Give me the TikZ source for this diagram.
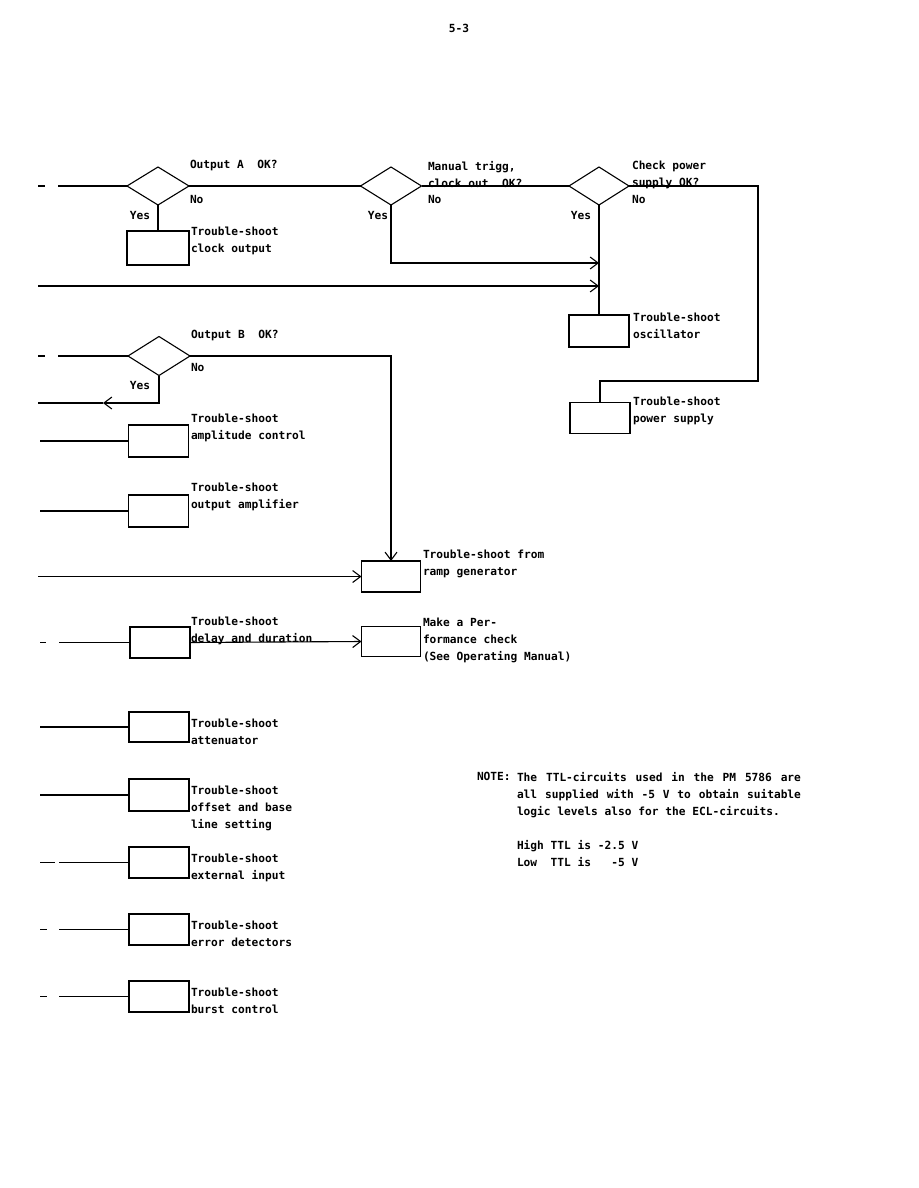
\documentclass[tikz,border=0pt]{standalone}
\usepackage{fontspec}
\newfontfamily\monof{DejaVu Sans Mono}
\usetikzlibrary{shapes.geometric,arrows.meta}
\begin{document}
\begin{tikzpicture}[x=1pt,y=-1pt,
  every node/.style={inner sep=0pt, outer sep=0pt},
  ln/.style={line width=1.1pt},
  arr/.style={-{Straight Barb[length=8pt,width=12pt,line width=1.1pt]}},
  dia/.style={diamond, draw, line width=1.1pt, inner sep=0pt},
  boxn/.style={rectangle, draw, line width=1.1pt, minimum width=60pt, minimum height=32pt},
  lbl/.style={anchor=north west, align=left, font=\monof\bfseries\fontsize{11.2pt}{17pt}\selectfont},
  lbly/.style={lbl, anchor=north east},
]
\useasboundingbox[fill=white] (0,0) rectangle (918,1188);

\node[lbl, anchor=north] (pg) at (459,24) {5-3};

% diamonds
\node[dia, minimum width=62pt, minimum height=38pt] (dA) at (158,186) {};
\node[dia, minimum width=61pt, minimum height=38pt] (dM) at (391,186) {};
\node[dia, minimum width=60pt, minimum height=38pt] (dP) at (599,186) {};
\node[dia, minimum width=62pt, minimum height=39pt] (dB) at (159,356) {};

% boxes
\node[boxn, minimum width=62pt, minimum height=34pt] (bClock) at (158,248) {};
\node[boxn] (bOsc) at (599,331) {};
\node[boxn, minimum height=31pt] (bPow) at (600,418) {};
\node[boxn] (bAmp) at (158.5,441) {};
\node[boxn] (bOA) at (158.5,511) {};
\node[boxn, minimum width=59pt, minimum height=31pt] (bRamp) at (391,576.5) {};
\node[boxn, minimum width=59pt, minimum height=30pt] (bPerf) at (391,641.5) {};
\node[boxn, minimum height=31pt] (bDelay) at (160,642.5) {};
\node[boxn, minimum height=30pt] (bAtt) at (159,727) {};
\node[boxn] (bOff) at (159,795) {};
\node[boxn, minimum height=31pt] (bExt) at (159,862.5) {};
\node[boxn, minimum height=31pt] (bErr) at (159,929.5) {};
\node[boxn, minimum height=31pt] (bBurst) at (159,996.5) {};

% labels
\node[lbl] (tA) at (190,160) {Output~A~~OK?};
\node[lbl] (tANo) at (190,195) {No};
\node[lbly] (tAYes) at (150,211) {Yes};
\node[lbl] (tClock) at (191,227) {Trouble-shoot\\clock output};
\node[lbl] (tM) at (428,161) {Manual trigg,\\clock out~~OK?};
\node[lbl] (tMNo) at (428,195) {No};
\node[lbly] (tMYes) at (388,211) {Yes};
\node[lbl] (tP) at (632,161) {Check power\\supply OK?};
\node[lbl] (tPNo) at (632,195) {No};
\node[lbly] (tPYes) at (591,211) {Yes};
\node[lbl] (tOsc) at (633,313) {Trouble-shoot\\oscillator};
\node[lbl] (tPow) at (633,397) {Trouble-shoot\\power supply};
\node[lbl] (tB) at (191,330) {Output~B~~OK?};
\node[lbl] (tBNo) at (191,363) {No};
\node[lbly] (tBYes) at (150,381) {Yes};
\node[lbl] (tAmp) at (191,414) {Trouble-shoot\\amplitude control};
\node[lbl] (tOA) at (191,483) {Trouble-shoot\\output amplifier};
\node[lbl] (tRamp) at (423,550) {Trouble-shoot from\\ramp generator};
\node[lbl] (tPerf) at (423,618) {Make a Per-\\formance check\\(See Operating Manual)};
\node[lbl] (tDelay) at (191,617) {Trouble-shoot\\delay and duration};
\node[lbl] (tAtt) at (191,719) {Trouble-shoot\\attenuator};
\node[lbl] (tOff) at (191,786) {Trouble-shoot\\offset and base\\line setting};
\node[lbl] (tExt) at (191,854) {Trouble-shoot\\external input};
\node[lbl] (tErr) at (191,921) {Trouble-shoot\\error detectors};
\node[lbl] (tBurst) at (191,988) {Trouble-shoot\\burst control};

% note
\node[lbl] (nHead) at (477,772) {NOTE:};
\node[lbl] (nText) at (517,772) {\spaceskip=6.74pt plus 4pt\relax
\makebox[284pt][s]{The TTL-circuits used in the PM 5786 are}\\
\makebox[284pt][s]{all supplied with -5 V to obtain suitable}\\
logic levels also for the ECL-circuits.\\[17pt]
High TTL is -2.5 V\\
Low~~TTL is~~~-5 V};

% coordinates for free ends
\coordinate (iA1) at (38,186); \coordinate (iA2) at (45,186); \coordinate (iA3) at (58,186);
\coordinate (j1) at (599,263);
\coordinate (i286) at (38,286); \coordinate (j2) at (599,286);
\coordinate (c1) at (758,186); \coordinate (c2) at (758,381);
\coordinate (iB1) at (38,356); \coordinate (iB2) at (45,356); \coordinate (iB3) at (58,356);
\coordinate (yB) at (103,403); \coordinate (yE) at (38,403);
\coordinate (iAmp) at (40,441);
\coordinate (iOA) at (40,511);
\coordinate (iRamp) at (38,576.5);
\coordinate (iD1) at (40,642.5); \coordinate (iD2) at (46,642.5); \coordinate (iD3) at (59,642.5);
\coordinate (iAtt) at (40,727);
\coordinate (iOff) at (40,795);
\coordinate (iE1) at (40,862.5); \coordinate (iE2) at (55,862.5); \coordinate (iE3) at (59,862.5);
\coordinate (iR1) at (40,929.5); \coordinate (iR2) at (47,929.5); \coordinate (iR3) at (59,929.5);
\coordinate (iU1) at (40,996.5); \coordinate (iU2) at (47,996.5); \coordinate (iU3) at (59,996.5);

% connectors
\draw[ln] (iA1) -- (iA2);
\draw[ln] (iA3) -- (dA.west);
\draw[ln] (dA.east) -- (dM.west);
\draw[ln] (dM.east) -- (dP.west);
\draw[ln] (dA.south) -- (bClock.north);
\draw[ln,arr] (dM.south) |- (j1);
\draw[ln,arr] (i286) -- (j2);
\draw[ln] (dP.south) -- (bOsc.north);
\draw[ln] (dP.east) -- (c1) -- (c2) -| (bPow.north);
\draw[ln] (iB1) -- (iB2);
\draw[ln] (iB3) -- (dB.west);
\draw[ln,arr] (dB.east) -| (bRamp.north);
\draw[ln,arr] (dB.south) |- (yB);
\draw[ln] (yB) -- (yE);
\draw[ln] (iAmp) -- (bAmp.west);
\draw[ln] (iOA) -- (bOA.west);
\draw[ln,arr] (iRamp) -- (bRamp.west);
\draw[ln] (iD1) -- (iD2);
\draw[ln] (iD3) -- (bDelay.west);
\draw[ln,arr] (bDelay.east) -- (bPerf.west);
\draw[ln] (iAtt) -- (bAtt.west);
\draw[ln] (iOff) -- (bOff.west);
\draw[ln] (iE1) -- (iE2);
\draw[ln] (iE3) -- (bExt.west);
\draw[ln] (iR1) -- (iR2);
\draw[ln] (iR3) -- (bErr.west);
\draw[ln] (iU1) -- (iU2);
\draw[ln] (iU3) -- (bBurst.west);
\end{tikzpicture}
\end{document}
